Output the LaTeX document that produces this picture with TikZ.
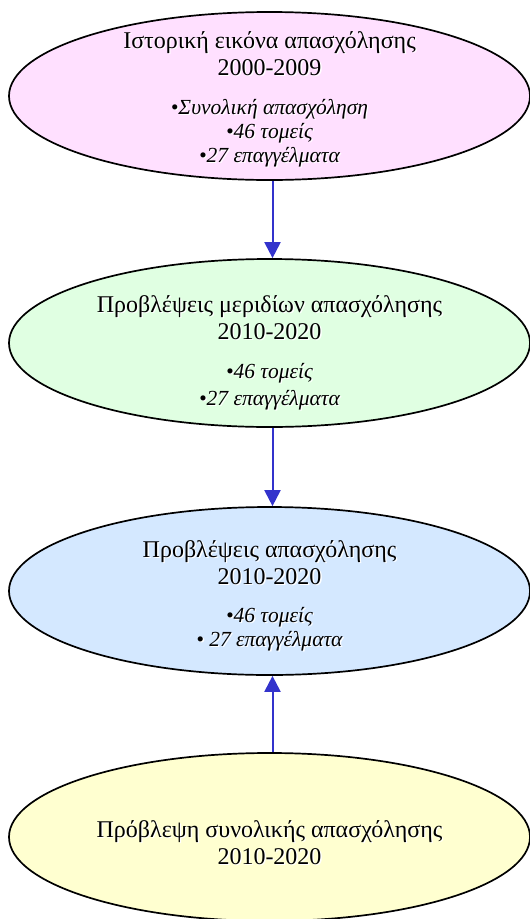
\documentclass[tikz,border=0pt]{standalone}
\usepackage{fontspec}
\setmainfont{Liberation Serif}
\usetikzlibrary{shapes.geometric,arrows.meta}
\definecolor{epink}{RGB}{255,224,255}
\definecolor{egreen}{RGB}{224,255,226}
\definecolor{eblue}{RGB}{212,232,255}
\definecolor{eyellow}{RGB}{255,255,208}
\definecolor{arrblue}{RGB}{51,51,204}
\newcommand\shd[1]{\makebox[0pt][l]{\raisebox{-1.3pt}{\hspace{1.3pt}\textcolor{white}{#1}}}#1}
\newcommand\shi[1]{{\fontsize{21.5}{24}\selectfont\itshape\shd{#1}}}
\tikzset{
  ell/.style={ellipse, draw=black, line width=1.7pt, minimum width=521pt, minimum height=168pt, inner sep=0pt},
  txt/.style={align=center, font=\fontsize{24}{27}\selectfont, inner sep=0pt},
  conn/.style={draw=arrblue, line width=2pt, -{Triangle[width=16pt,length=16pt]}}
}
\begin{document}
\begin{tikzpicture}[x=1pt,y=-1pt]
\useasboundingbox (0,0) rectangle (530,919);
\node[ell, fill=epink] (e1) at (269.5,96) {};
\node[ell, fill=egreen] (e2) at (269.5,343) {};
\node[ell, fill=eblue] (e3) at (269.5,591) {};
\node[ell, fill=eyellow] (e4) at (269.5,837) {};
\node[txt] (t1) at ([yshift=-4pt]e1.center) {\shd{Ιστορική εικόνα απασχόλησης}\\ \shd{2000-2009}\\[12pt]
  \shi{•Συνολική απασχόληση}\\[-3pt] \shi{•46 τομείς}\\[-3pt] \shi{•27 επαγγέλματα}};
\node[txt] (t2) at ([yshift=-10pt]e2.center) {\shd{Προβλέψεις μεριδίων απασχόλησης}\\ \shd{2010-2020}\\[12pt]
  \shi{•46 τομείς}\\[0pt] \shi{•27 επαγγέλματα}};
\node[txt] (t3) at ([yshift=-5pt]e3.center) {\shd{Προβλέψεις απασχόλησης}\\ \shd{2010-2020}\\[11pt]
  \shi{•46 τομείς}\\[-3pt] \shi{• 27 επαγγέλματα}};
\node[txt] (t4) at ([yshift=-6pt]e4.center) {\shd{Πρόβλεψη συνολικής απασχόλησης}\\ \shd{2010-2020}};
\draw[conn] ([xshift=3pt]e1.south) -- ([xshift=3pt]e2.north);
\draw[conn] ([xshift=3pt]e2.south) -- ([xshift=3pt]e3.north);
\draw[conn] ([xshift=3pt]e4.north) -- ([xshift=3pt]e3.south);
\end{tikzpicture}
\end{document}
